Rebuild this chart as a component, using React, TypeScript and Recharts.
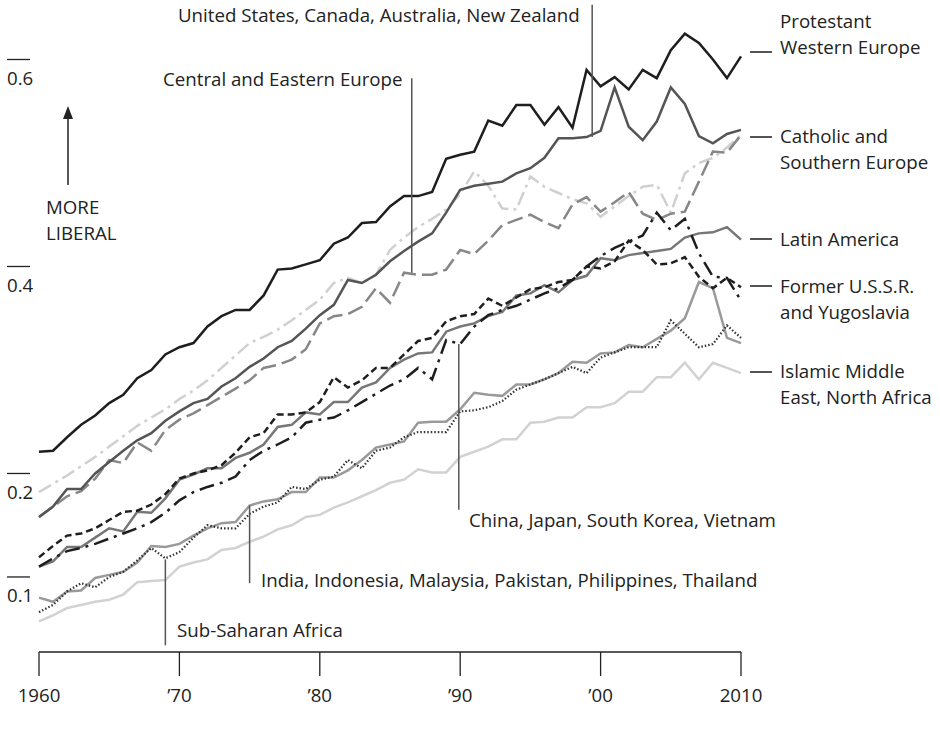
import { LineChart, Line, XAxis, YAxis, ReferenceLine } from "recharts";

const years = [
  1960, 1961, 1962, 1963, 1964, 1965, 1966, 1967, 1968, 1969,
  1970, 1971, 1972, 1973, 1974, 1975, 1976, 1977, 1978, 1979,
  1980, 1981, 1982, 1983, 1984, 1985, 1986, 1987, 1988, 1989,
  1990, 1991, 1992, 1993, 1994, 1995, 1996, 1997, 1998, 1999,
  2000, 2001, 2002, 2003, 2004, 2005, 2006, 2007, 2008, 2009, 2010,
];

const protestant = [
  0.221, 0.222, 0.235, 0.247, 0.256, 0.268, 0.276, 0.292, 0.3, 0.315,
  0.322, 0.326, 0.342, 0.352, 0.358, 0.358, 0.372, 0.397, 0.398, 0.402,
  0.406, 0.422, 0.428, 0.442, 0.443, 0.458, 0.468, 0.468, 0.472, 0.504,
  0.508, 0.511, 0.541, 0.536, 0.556, 0.556, 0.537, 0.554, 0.534, 0.59,
  0.574, 0.583, 0.571, 0.59, 0.582, 0.609, 0.625, 0.616, 0.6, 0.582, 0.603,
];
const usCanada = [
  0.158, 0.168, 0.185, 0.185, 0.2, 0.211, 0.222, 0.232, 0.239, 0.251,
  0.26, 0.268, 0.272, 0.284, 0.292, 0.303, 0.311, 0.322, 0.328, 0.34,
  0.353, 0.363, 0.387, 0.384, 0.392, 0.405, 0.415, 0.424, 0.432, 0.452,
  0.474, 0.478, 0.48, 0.482, 0.49, 0.495, 0.505, 0.524, 0.524, 0.525,
  0.531, 0.573, 0.535, 0.522, 0.54, 0.573, 0.557, 0.526, 0.519, 0.528, 0.532,
];
const catholic = [
  0.182, 0.19, 0.198, 0.207, 0.216, 0.226, 0.236, 0.246, 0.254, 0.262,
  0.272, 0.28, 0.29, 0.302, 0.314, 0.326, 0.332, 0.339, 0.348, 0.358,
  0.368, 0.384, 0.389, 0.384, 0.392, 0.416, 0.428, 0.438, 0.446, 0.455,
  0.47, 0.492, 0.478, 0.456, 0.455, 0.487, 0.477, 0.471, 0.465, 0.461,
  0.448, 0.458, 0.468, 0.477, 0.479, 0.452, 0.49, 0.5, 0.505, 0.515, 0.527,
];
const centralEast = [
  0.158, 0.168, 0.178, 0.183, 0.195, 0.213, 0.21, 0.23, 0.222, 0.242,
  0.252, 0.258, 0.266, 0.274, 0.282, 0.29, 0.302, 0.305, 0.31, 0.32,
  0.345, 0.352, 0.354, 0.361, 0.379, 0.365, 0.394, 0.392, 0.392, 0.397,
  0.416, 0.412, 0.425, 0.44, 0.445, 0.45, 0.443, 0.437, 0.46, 0.467,
  0.453, 0.462, 0.472, 0.451, 0.445, 0.451, 0.453, 0.482, 0.511, 0.51, 0.527,
];
const latinAmerica = [
  0.11, 0.115, 0.129, 0.129, 0.138, 0.147, 0.144, 0.163, 0.162, 0.176,
  0.194, 0.199, 0.205, 0.205, 0.215, 0.22, 0.228, 0.245, 0.247, 0.259,
  0.257, 0.269, 0.269, 0.283, 0.288, 0.302, 0.31, 0.316, 0.317, 0.337,
  0.342, 0.345, 0.352, 0.356, 0.372, 0.374, 0.382, 0.375, 0.387, 0.391,
  0.408, 0.406, 0.411, 0.413, 0.415, 0.417, 0.428, 0.432, 0.433, 0.438, 0.426,
];
const formerUssr = [
  0.119, 0.13, 0.14, 0.142, 0.147, 0.155, 0.163, 0.164, 0.17, 0.18,
  0.195, 0.2, 0.203, 0.208, 0.22, 0.235, 0.239, 0.257, 0.257, 0.259,
  0.269, 0.293, 0.283, 0.29, 0.302, 0.302, 0.315, 0.328, 0.331, 0.347,
  0.352, 0.354, 0.369, 0.362, 0.37, 0.378, 0.38, 0.385, 0.387, 0.4,
  0.398, 0.405, 0.425, 0.416, 0.402, 0.403, 0.409, 0.39, 0.379, 0.389, 0.38,
];
const chinaJapan = [
  0.11, 0.118, 0.125, 0.128, 0.132, 0.137, 0.142, 0.147, 0.153, 0.162,
  0.174, 0.182, 0.187, 0.191, 0.197, 0.213, 0.222, 0.228, 0.235, 0.249,
  0.252, 0.254, 0.261, 0.269, 0.277, 0.285, 0.291, 0.302, 0.291, 0.329,
  0.325, 0.342, 0.353, 0.358, 0.362, 0.368, 0.374, 0.379, 0.387, 0.4,
  0.41, 0.418, 0.424, 0.43, 0.452, 0.435, 0.446, 0.413, 0.39, 0.389, 0.367,
];
const indiaGroup = [
  0.08, 0.076, 0.086, 0.087, 0.099, 0.102, 0.105, 0.114, 0.13, 0.129,
  0.132, 0.14, 0.147, 0.152, 0.153, 0.169, 0.173, 0.175, 0.182, 0.182,
  0.196, 0.196, 0.203, 0.213, 0.225, 0.228, 0.231, 0.249, 0.25, 0.25,
  0.262, 0.278, 0.276, 0.275, 0.286, 0.286, 0.291, 0.297, 0.308, 0.307,
  0.316, 0.317, 0.324, 0.322, 0.33, 0.338, 0.35, 0.385, 0.379, 0.331, 0.326,
];
const subSaharan = [
  0.066, 0.073, 0.086, 0.094, 0.09, 0.1, 0.105, 0.116, 0.128, 0.118,
  0.124, 0.138, 0.15, 0.147, 0.147, 0.161, 0.168, 0.172, 0.187, 0.185,
  0.194, 0.197, 0.213, 0.205, 0.222, 0.225, 0.235, 0.24, 0.24, 0.24,
  0.26, 0.261, 0.264, 0.27, 0.281, 0.286, 0.291, 0.297, 0.303, 0.297,
  0.312, 0.317, 0.322, 0.322, 0.322, 0.348, 0.335, 0.322, 0.325, 0.343, 0.331,
];
const islamic = [
  0.057, 0.063, 0.07, 0.073, 0.076, 0.078, 0.083, 0.095, 0.096, 0.097,
  0.11, 0.114, 0.117, 0.126, 0.128, 0.134, 0.139, 0.146, 0.15, 0.158,
  0.16, 0.167, 0.172, 0.178, 0.184, 0.191, 0.194, 0.204, 0.201, 0.201,
  0.216, 0.221, 0.226, 0.233, 0.233, 0.249, 0.25, 0.254, 0.254, 0.264,
  0.264, 0.268, 0.279, 0.279, 0.293, 0.293, 0.307, 0.291, 0.307, 0.302, 0.297,
];

const xTicks = [1960, 1970, 1980, 1990, 2000, 2010];
const xTickLabels = ["1960", "\u201970", "\u201980", "\u201990", "\u201900", "2010"];
const yTicks = [0.1, 0.2, 0.4, 0.6];

const data = years.map((year, i) => ({
  year,
  protestant: protestant[i],
  usCanada: usCanada[i],
  catholic: catholic[i],
  centralEast: centralEast[i],
  latinAmerica: latinAmerica[i],
  formerUssr: formerUssr[i],
  chinaJapan: chinaJapan[i],
  indiaGroup: indiaGroup[i],
  subSaharan: subSaharan[i],
  islamic: islamic[i],
}));

// drawing order: light lines first, black on top
const series = [
  { key: "islamic", color: "#d2d2d2", width: 2.5 },
  { key: "catholic", color: "#d0d0d0", width: 2.5, dash: "14 5 3 5" },
  { key: "indiaGroup", color: "#9a9a9a", width: 2.5 },
  { key: "subSaharan", color: "#333", width: 2.2, dash: "1.5 2" },
  { key: "centralEast", color: "#878787", width: 2.5, dash: "16 6" },
  { key: "latinAmerica", color: "#777", width: 2.5 },
  { key: "usCanada", color: "#555", width: 2.5 },
  { key: "chinaJapan", color: "#1e1e1e", width: 2.5, dash: "15 6 3 6" },
  { key: "formerUssr", color: "#1e1e1e", width: 2.5, dash: "7 4" },
  { key: "protestant", color: "#1e1e1e", width: 2.5 },
];

// pointer lines from annotation text to a series, in data coordinates
const pointers = [
  { year: 1999.4, from: 0.525, to: 0.653 },
  { year: 1986.55, from: 0.394, to: 0.582 },
  { year: 1989.9, from: 0.325, to: 0.165 },
  { year: 1975.0, from: 0.169, to: 0.094 },
  { year: 1969.0, from: 0.117, to: 0.034 },
];

const FONT = "'Open Sans', sans-serif";
const FS = 18.7;
const INK = "#222";

function YTick(props: any) {
  const { y, payload } = props;
  return (
    <g>
      <line x1={7} x2={30} y1={y} y2={y} stroke={INK} strokeWidth={1.3} />
      <text x={7} y={y + 25.5} fontSize={FS} fill={INK} fontFamily={FONT}>
        {String(payload.value)}
      </text>
    </g>
  );
}

const rightLabels = [
  { lines: ["Protestant", "Western Europe"], y: 28, dash: 52 },
  { lines: ["Catholic and", "Southern Europe"], y: 143, dash: 137 },
  { lines: ["Latin America"], y: 246, dash: 239 },
  { lines: ["Former U.S.S.R.", "and Yugoslavia"], y: 293, dash: 286 },
  { lines: ["Islamic Middle", "East, North Africa"], y: 378, dash: 372 },
];

const notes = [
  { text: "United States, Canada, Australia, New Zealand", x: 178, y: 22 },
  { text: "Central and Eastern Europe", x: 163, y: 86 },
  { text: "MORE", x: 46, y: 214 },
  { text: "LIBERAL", x: 46, y: 240 },
  { text: "China, Japan, South Korea, Vietnam", x: 469, y: 527 },
  { text: "India, Indonesia, Malaysia, Pakistan, Philippines, Thailand", x: 261, y: 587 },
  { text: "Sub-Saharan Africa", x: 177, y: 637 },
];

export default function App() {
  return (
    <div style={{ position: "absolute", left: 0, top: 0, width: 940, height: 730, background: "#fff" }}>
      <LineChart
        width={940}
        height={730}
        data={data}
        margin={{ top: 7.75, right: 199, bottom: 18, left: 0 }}
      >
        <XAxis
          dataKey="year"
          type="number"
          domain={[1960, 2010]}
          ticks={xTicks}
          interval={0}
          height={60}
          tickSize={24}
          tickMargin={13}
          axisLine={{ stroke: INK, strokeWidth: 1.5 }}
          tickLine={{ stroke: INK, strokeWidth: 1.3 }}
          tick={{ fill: INK, fontSize: FS, fontFamily: FONT }}
          tickFormatter={(v: number) => xTickLabels[xTicks.indexOf(v)]}
        />
        <YAxis
          type="number"
          domain={[0.0275, 0.65]}
          allowDataOverflow
          ticks={yTicks}
          interval={0}
          width={39}
          axisLine={false}
          tickLine={false}
          tick={<YTick />}
        />
        {series.map((s) => (
          <Line
            key={s.key}
            dataKey={s.key}
            type="linear"
            stroke={s.color}
            strokeWidth={s.width}
            strokeDasharray={s.dash}
            dot={false}
            activeDot={false}
            isAnimationActive={false}
          />
        ))}
        {pointers.map((p, i) => (
          <ReferenceLine
            key={i}
            segment={[
              { x: p.year, y: p.from },
              { x: p.year, y: p.to },
            ]}
            stroke="#555"
            strokeWidth={1.5}
            ifOverflow="visible"
          />
        ))}
      </LineChart>
      <svg
        width={940}
        height={730}
        style={{ position: "absolute", left: 0, top: 0, pointerEvents: "none" }}
        fontFamily={FONT}
        fontSize={FS}
        fill={INK}
      >
        {notes.map((n) => (
          <text key={n.text} x={n.x} y={n.y}>
            {n.text}
          </text>
        ))}
        <line x1={68} x2={68} y1={185} y2={116} stroke={INK} strokeWidth={1.5} />
        <polygon points="68,106 63,119 73,119" fill={INK} />
        {rightLabels.map((r) => (
          <g key={r.lines[0]}>
            <line x1={750} x2={772} y1={r.dash} y2={r.dash} stroke="#555" strokeWidth={2} />
            {r.lines.map((l, j) => (
              <text key={l} x={780} y={r.y + j * 26}>
                {l}
              </text>
            ))}
          </g>
        ))}
      </svg>
    </div>
  );
}
